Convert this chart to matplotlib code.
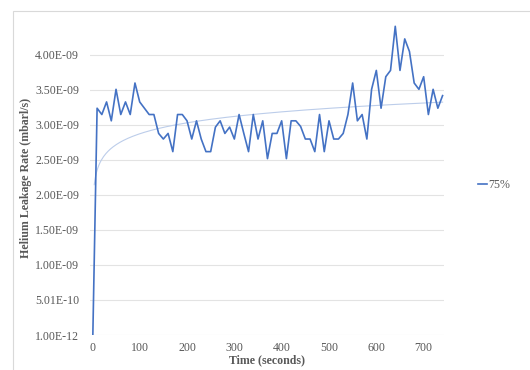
import matplotlib
matplotlib.use('Agg')
import matplotlib.pyplot as plt
from matplotlib.patches import Rectangle
import numpy as np

# time in seconds, one reading every 10 s (first reading logged at 1 s)
time_s = [1] + list(range(10, 750, 10))
# helium leakage rate, units of 1e-9 mbar l/s
leak_e9 = [
    0.001, 3.24, 3.15, 3.33, 3.06, 3.51, 3.15, 3.33, 3.15, 3.60,
    3.33, 3.24, 3.15, 3.15, 2.88, 2.80, 2.88, 2.62, 3.15, 3.15,
    3.06, 2.80, 3.06, 2.80, 2.62, 2.62, 2.97, 3.06, 2.88, 2.97,
    2.80, 3.15, 2.88, 2.62, 3.15, 2.80, 3.06, 2.52, 2.88, 2.88,
    3.06, 2.52, 3.06, 3.06, 2.98, 2.80, 2.80, 2.62, 3.15, 2.62,
    3.06, 2.80, 2.80, 2.88, 3.15, 3.60, 3.06, 3.15, 2.80, 3.51,
    3.78, 3.24, 3.69, 3.78, 4.41, 3.78, 4.23, 4.05, 3.60, 3.51,
    3.69, 3.15, 3.51, 3.24, 3.42,
]
series_label = '75%'

t = np.array(time_s, dtype=float)
v = np.array(leak_e9) * 1e-9

plt.rcParams['font.family'] = ['Liberation Serif', 'DejaVu Serif']
grey = '#595959'

fig = plt.figure(figsize=(5.3, 3.7), dpi=100)
ax = fig.add_axes([90 / 530, 1 - 335 / 370, (444 - 90) / 530, (335 - 20) / 370])

# chart border (Excel style)
fig.patches.append(Rectangle((13 / 530, -0.1), 1.0, 1.1 - 11 / 370,
                             transform=fig.transFigure, fill=False,
                             edgecolor='#d9d9d9', linewidth=0.8))

ax.plot(t, v, color='#4472C4', linewidth=1.2, label=series_label, zorder=3)

# logarithmic trendline fitted to all readings
b, a = np.polyfit(np.log(t), v, 1)
tt = np.linspace(4, t.max(), 300)
ax.plot(tt, a + b * np.log(tt), color='#bccdea', linewidth=0.8, zorder=2)

ax.set_xlim(-5, 743)
ax.set_ylim(1e-12, 4.5e-9)
ax.set_xticks(np.arange(0, 701, 100))
yt = 1e-12 + 5e-10 * np.arange(9)
ax.set_yticks(yt)
ax.set_yticklabels(['%.2E' % y for y in yt])
ax.tick_params(length=0, labelsize=8.6, labelcolor=grey)
ax.tick_params(axis='y', pad=8)
ax.tick_params(axis='x', pad=5)
ax.grid(axis='y', color='#e3e3e3', linewidth=0.8)
for s in ax.spines.values():
    s.set_visible(False)

ax.set_xlabel('Time (seconds)', fontsize=8.6, fontweight='bold', color=grey, labelpad=0)
ax.set_ylabel('Helium Leakage Rate (mbarl/s)', fontsize=8.6, fontweight='bold', color=grey, labelpad=2)

ax.legend(loc='center left', bbox_to_anchor=(467 / 530, 0.5), bbox_transform=fig.transFigure,
          frameon=False, handlelength=0.8, handletextpad=0.1, fontsize=8.6, labelcolor=grey)

fig.savefig('out.png', dpi=100)
